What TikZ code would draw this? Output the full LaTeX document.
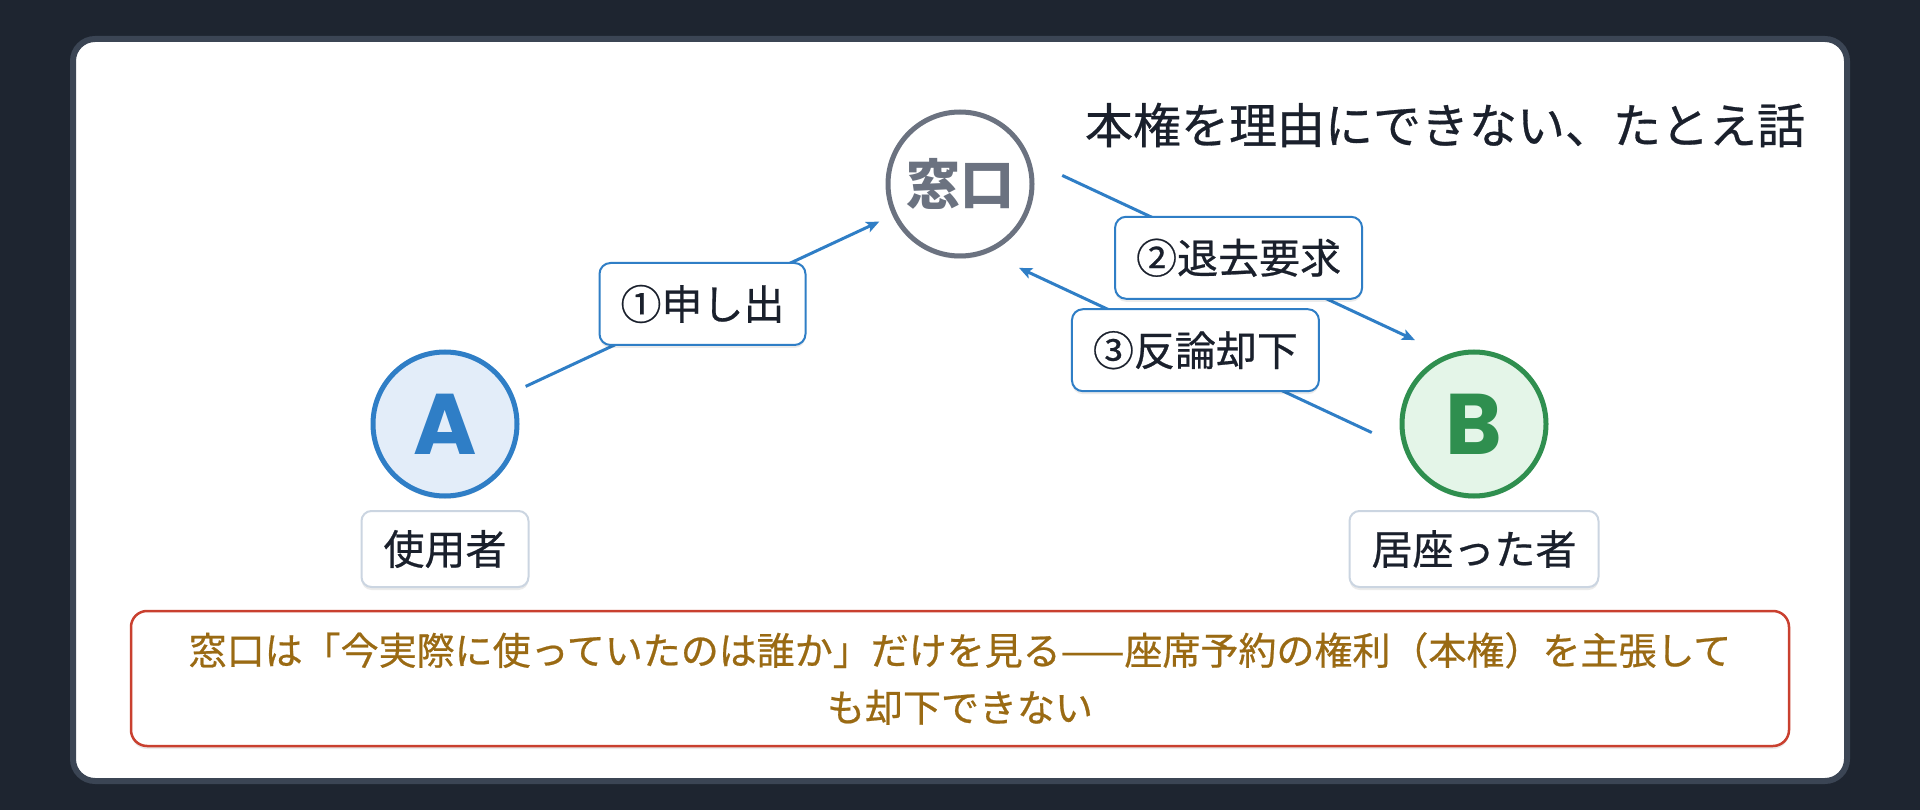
\documentclass[tikz,border=0pt]{standalone}
\usepackage{fontspec}
\setmainfont{Noto Sans CJK JP}
\newfontfamily\jpm{Noto Sans CJK JP}[FakeBold=0.6]
\newfontfamily\pop{Poppins}
\usetikzlibrary{calc,arrows.meta,shadows}
\definecolor{bgc}{HTML}{1E2530}
\definecolor{cardedge}{HTML}{3B4554}
\definecolor{wgray}{HTML}{6B7280}
\definecolor{ablue}{HTML}{2F7EC6}
\definecolor{afill}{HTML}{E3EDF9}
\definecolor{bgreen}{HTML}{2F8F4F}
\definecolor{bfill}{HTML}{E4F5E8}
\definecolor{lborder}{HTML}{CBD5E1}
\definecolor{tdark}{HTML}{1A202C}
\definecolor{nred}{HTML}{C9402F}
\definecolor{ntext}{HTML}{9A6A13}
\begin{document}
\begin{tikzpicture}[x=1pt,y=-1pt,
  softshadow/.style={drop shadow={shadow xshift=0pt,shadow yshift=-3pt,opacity=0.08,fill=black}},
  circ/.style={circle,minimum size=144pt,inner sep=0pt,line width=5pt,softshadow},
  nlabel/.style={draw=lborder,fill=white,line width=2pt,rounded corners=10pt,
    minimum height=76pt,inner xsep=22pt,inner ysep=0pt,text=tdark,
    font=\jpm\fontsize{41}{41}\selectfont,softshadow},
  elabel/.style={draw=ablue,fill=white,line width=2pt,rounded corners=11pt,
    minimum height=82pt,inner xsep=21pt,inner ysep=0pt,text=tdark,
    font=\jpm\fontsize{41}{41}\selectfont,softshadow},
  arr/.style={draw=ablue,line width=3pt,-{Stealth[length=13pt,width=11pt,inset=3pt]}},
  notebox/.style={draw=nred,fill=white,line width=2.5pt,rounded corners=16pt,
    minimum width=1658pt,minimum height=135pt,align=center,text=ntext,
    font=\jpm\fontsize{38}{57}\selectfont,softshadow}
]
\fill[bgc] (0,0) rectangle (1920,810);
\useasboundingbox (0,0) rectangle (1920,810);
\draw[line width=6pt,draw=cardedge,fill=white,rounded corners=22pt] (73,39) rectangle (1847,781);

\node[circ,draw=wgray,fill=white,text=wgray] (W) at (960,184) {\fontsize{54}{54}\selectfont\bfseries 窓口};
\node[circ,draw=ablue,fill=afill,text=ablue] (A) at (445,424) {\pop\fontsize{86}{86}\selectfont\bfseries A};
\node[circ,draw=bgreen,fill=bfill,text=bgreen] (B) at (1474,424) {\pop\fontsize{86}{86}\selectfont\bfseries B};

\node[nlabel] (LA) at (445,549) {使用者};
\node[nlabel] (LB) at (1474,549) {居座った者};

\node[text=tdark,font=\jpm\fontsize{48}{48}\selectfont] (T) at (1445,125) {本権を理由にできない、たとえ話};

\coordinate (a1s) at ($(A)!89pt!(W)$);
\coordinate (a1e) at ($(W)!89pt!(A)$);
\coordinate (a2s) at ($(W)!89pt!(B)!51pt!90:(B)$);
\coordinate (a2e) at ($(B)!89pt!(W)!51pt!-90:(W)$);
\coordinate (a3s) at ($(B)!89pt!(W)!51pt!90:(W)$);
\coordinate (a3e) at ($(W)!89pt!(B)!51pt!-90:(B)$);

\draw[arr] (a1s) -- (a1e);
\draw[arr] (a2s) -- (a2e);
\draw[arr] (a3s) -- (a3e);

\node[elabel] (L1) at ($(a1s)!0.5!(a1e)$) {①申し出};
\node[elabel] (L2) at ($(a2s)!0.5!(a2e)$) {②退去要求};
\node[elabel] (L3) at ($(a3s)!0.5!(a3e)$) {③反論却下};

\node[notebox] (N) at (960,678.5) {窓口は「今実際に使っていたのは誰か」だけを見る——座席予約の権利（本権）を主張して\\も却下できない};
\end{tikzpicture}
\end{document}
